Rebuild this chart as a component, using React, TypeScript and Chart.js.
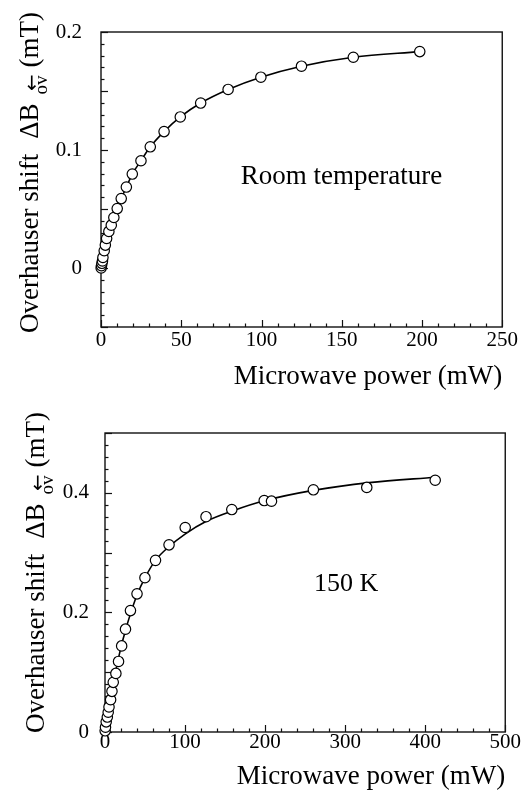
import React, { useEffect, useRef } from "react";
import { Chart, registerables } from "chart.js";

Chart.register(...registerables);

// ---------- Room temperature panel ----------
const rtPower = [0.1, 0.3, 0.6, 0.9, 1.2, 2.0, 2.7, 3.5, 4.9, 6.4, 8.0, 10.1, 12.6, 15.8, 19.5, 24.9, 30.7, 39.3, 49.4, 62.1, 79.2, 99.6, 124.9, 157.2, 198.6];
const rtShift = [0.0, 0.002, 0.004, 0.006, 0.009, 0.0146, 0.0194, 0.025, 0.031, 0.0363, 0.0428, 0.0504, 0.0588, 0.0686, 0.0796, 0.0909, 0.1027, 0.1156, 0.128, 0.1398, 0.1513, 0.1617, 0.171, 0.1786, 0.1834];
const rtXTicks = [0, 50, 100, 150, 200, 250];
const rtYTicks = [0, 0.1, 0.2];
const rtLabel = "Room temperature";

// ---------- 150 K panel ----------
const ltPower = [0.2, 0.6, 1.5, 2.9, 4.0, 5.0, 7.0, 8.7, 10.3, 13.6, 16.9, 20.8, 25.6, 31.8, 40, 49.9, 63.1, 80, 100.2, 126.2, 158.4, 198.9, 208, 260.3, 327, 412.5];
const ltShift = [0.002, 0.008, 0.017, 0.025, 0.033, 0.042, 0.054, 0.068, 0.083, 0.098, 0.118, 0.144, 0.172, 0.203, 0.231, 0.258, 0.287, 0.313, 0.342, 0.36, 0.372, 0.387, 0.386, 0.405, 0.409, 0.421];
const ltFitPower = [0, 2, 5, 10, 15, 20, 25, 30, 40, 50, 63, 80, 100, 126, 160, 200, 260, 330, 413];
const ltFitShift = [0, 0.015, 0.04, 0.08, 0.112, 0.142, 0.167, 0.19, 0.229, 0.258, 0.287, 0.31, 0.331, 0.352, 0.37, 0.387, 0.404, 0.417, 0.426];
const ltXTicks = [0, 100, 200, 300, 400, 500];
const ltYTicks = [0, 0.2, 0.4];
const ltLabel = "150 K";

// ---------- shared text ----------
const xTitle = "Microwave power (mW)";
const yTitleMain = "Overhauser shift";
const yTitleSym = "\u0394B";
const yTitleSub = "ov";
const yTitleArrow = "\u2193";
const yTitleUnit = "(mT)";

const FONT = "'Liberation Serif', 'Times New Roman', serif";

const frameTicks = {
  id: "frameTicks",
  beforeDatasetsDraw(chart: any, _a: any, o: any) {
    const { ctx, chartArea } = chart;
    const { left, right, top, bottom } = chartArea;
    const xs = chart.scales.x;
    const ys = chart.scales.y;
    ctx.save();
    ctx.strokeStyle = "#111";
    ctx.lineWidth = 1.4;
    ctx.strokeRect(left, top, right - left, bottom - top);
    ctx.lineWidth = 1.2;
    const nx = Math.round((xs.max - xs.min) / o.xMinor);
    for (let i = 0; i <= nx; i++) {
      const v = xs.min + i * o.xMinor;
      const r = v / o.xMajor;
      const major = Math.abs(r - Math.round(r)) < 1e-6;
      const px = Math.round(xs.getPixelForValue(v)) + 0.5;
      ctx.beginPath();
      ctx.moveTo(px, bottom);
      ctx.lineTo(px, bottom - (major ? 7 : 3.5));
      ctx.stroke();
    }
    const ny = Math.round((ys.max - ys.min) / o.yMinor);
    for (let i = 0; i <= ny; i++) {
      const v = ys.min + i * o.yMinor;
      const r = v / o.yMajor;
      const major = Math.abs(r - Math.round(r)) < 1e-6;
      const py = Math.round(ys.getPixelForValue(v)) + 0.5;
      ctx.beginPath();
      ctx.moveTo(left, py);
      ctx.lineTo(left + (major ? 7 : 3.5), py);
      ctx.stroke();
    }
    ctx.restore();
  },
};

const yTitlePlugin = {
  id: "yTitle",
  afterDraw(chart: any, _a: any, o: any) {
    const ctx = chart.ctx;
    ctx.save();
    ctx.fillStyle = "#000";
    ctx.translate(o.x, o.y);
    ctx.rotate(-Math.PI / 2);
    ctx.textAlign = "left";
    ctx.textBaseline = "alphabetic";
    ctx.font = `27px ${FONT}`;
    let u = 0;
    ctx.fillText(yTitleMain, u, 0);
    u += ctx.measureText(yTitleMain).width + o.gap;
    ctx.fillText(yTitleSym, u, 0);
    u += ctx.measureText(yTitleSym).width + 9;
    ctx.font = `19px ${FONT}`;
    const subW = ctx.measureText(yTitleSub).width;
    ctx.fillText(yTitleSub, u, 9);
    const arrowU = u + subW / 2;
    u += subW + 8;
    ctx.font = `27px ${FONT}`;
    ctx.fillText(yTitleUnit, u, 0);
    ctx.restore();
    ctx.save();
    ctx.fillStyle = "#000";
    ctx.font = `20px 'DejaVu Sans'`;
    ctx.textAlign = "center";
    ctx.textBaseline = "middle";
    ctx.fillText(yTitleArrow, o.x - 6, o.y - arrowU);
    ctx.restore();
  },
};

const annotPlugin = {
  id: "annot",
  afterDatasetsDraw(chart: any, _a: any, o: any) {
    const ctx = chart.ctx;
    ctx.save();
    ctx.fillStyle = "#000";
    ctx.font = `${o.size}px ${FONT}`;
    ctx.textAlign = "left";
    ctx.textBaseline = "middle";
    ctx.fillText(o.text, chart.scales.x.getPixelForValue(o.xv), chart.scales.y.getPixelForValue(o.yv));
    ctx.restore();
  },
};

function buildConfig(p: any): any {
  return {
    type: "scatter",
    data: {
      datasets: [
        {
          data: p.px.map((x: number, i: number) => ({ x, y: p.py[i] })),
          showLine: false,
          pointRadius: 5.2,
          pointBackgroundColor: "#fff",
          pointBorderColor: "#000",
          pointBorderWidth: 1.2,
          clip: false,
        },
        {
          data: p.fx.map((x: number, i: number) => ({ x, y: p.fy[i] })),
          showLine: true,
          pointRadius: 0,
          borderColor: "#000",
          borderWidth: 1.6,
          cubicInterpolationMode: "monotone",
          clip: false,
        },
      ],
    },
    options: {
      responsive: false,
      animation: false,
      devicePixelRatio: 1,
      layout: { padding: { left: 0, top: p.padTop, right: p.padRight, bottom: 0 } },
      plugins: {
        legend: { display: false },
        tooltip: { enabled: false },
        frameTicks: { xMinor: p.xMinor, xMajor: p.xMajor, yMinor: p.yMinor, yMajor: p.yMajor },
        yTitle: { x: p.titleX, y: p.titleY, gap: 15 },
        annot: { text: p.label, xv: p.labelX, yv: p.labelY, size: p.labelSize },
      },
      scales: {
        x: {
          type: "linear",
          min: p.xMin,
          max: p.xMax,
          grid: { display: false, drawTicks: false },
          border: { display: false },
          ticks: {
            font: { family: FONT, size: 21, lineHeight: 1 },
            color: "#000",
            padding: p.xTickPad,
            maxRotation: 0,
            autoSkip: false,
          },
          afterBuildTicks: (s: any) => {
            s.ticks = p.xTicks.map((v: number) => ({ value: v }));
          },
          afterFit: (s: any) => {
            s.height = p.xAxisH;
          },
          title: {
            display: true,
            text: xTitle,
            align: "end",
            color: "#000",
            font: { family: FONT, size: 27, lineHeight: 1 },
            padding: { top: 0, bottom: p.xTitlePad },
          },
        },
        y: {
          type: "linear",
          min: p.yMin,
          max: p.yMax,
          grid: { display: false, drawTicks: false },
          border: { display: false },
          ticks: {
            font: { family: FONT, size: 21, lineHeight: 1 },
            color: "#000",
            padding: p.yTickPad,
            autoSkip: false,
            callback: (v: number) => String(Math.round(v * 100) / 100),
          },
          afterBuildTicks: (s: any) => {
            s.ticks = p.yTicks.map((v: number) => ({ value: v }));
          },
          afterFit: (s: any) => {
            s.width = p.yAxisW;
          },
        },
      },
    },
    plugins: [frameTicks, yTitlePlugin, annotPlugin],
  };
}

const topPanel = {
  px: rtPower, py: rtShift, fx: rtPower, fy: rtShift,
  xMin: 0, xMax: 250, yMin: -0.05, yMax: 0.2,
  xTicks: rtXTicks, yTicks: rtYTicks,
  xMinor: 10, xMajor: 50, yMinor: 0.01, yMajor: 0.05,
  padTop: 32, padRight: 15, yAxisW: 101, xAxisH: 73,
  xTickPad: 3, yTickPad: 19, xTitlePad: 9.5,
  titleX: 38, titleY: 333,
  label: rtLabel, labelX: 87, labelY: 0.0768, labelSize: 27,
};

const bottomPanel = {
  px: ltPower, py: ltShift, fx: ltFitPower, fy: ltFitShift,
  xMin: 0, xMax: 500, yMin: 0, yMax: 0.5,
  xTicks: ltXTicks, yTicks: ltYTicks,
  xMinor: 20, xMajor: 100, yMinor: 0.02, yMajor: 0.1,
  padTop: 33, padRight: 12, yAxisW: 105, xAxisH: 62,
  xTickPad: 0, yTickPad: 16, xTitlePad: 3.5,
  titleX: 44, titleY: 333,
  label: ltLabel, labelX: 261, labelY: 0.248, labelSize: 26,
};

export default function App() {
  const topRef = useRef<HTMLCanvasElement>(null);
  const botRef = useRef<HTMLCanvasElement>(null);
  useEffect(() => {
    const c1 = new Chart(topRef.current as HTMLCanvasElement, buildConfig(topPanel));
    const c2 = new Chart(botRef.current as HTMLCanvasElement, buildConfig(bottomPanel));
    return () => {
      c1.destroy();
      c2.destroy();
    };
  }, []);
  return (
    <div style={{ position: "absolute", left: 0, top: 0, width: 521, height: 794, background: "#fff" }}>
      <canvas ref={topRef} width={521} height={400} style={{ position: "absolute", left: 0, top: 0, width: 521, height: 400 }} />
      <canvas ref={botRef} width={521} height={394} style={{ position: "absolute", left: 0, top: 400, width: 521, height: 394 }} />
    </div>
  );
}
